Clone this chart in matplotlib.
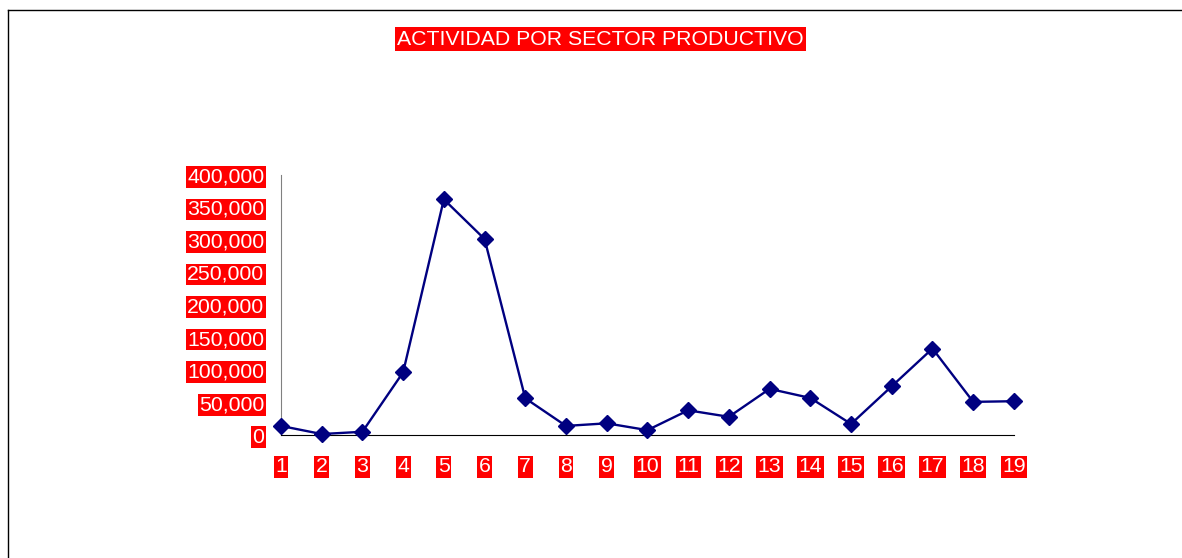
import matplotlib
matplotlib.use("Agg")
import matplotlib.pyplot as plt
from matplotlib.ticker import StrMethodFormatter, MultipleLocator
from matplotlib.lines import Line2D

plt.rcParams['font.family'] = ['Liberation Sans', 'DejaVu Sans']

# activity per productive sector
sectors = list(range(1, 20))
activity = [14000, 1500, 5000, 96500, 362500, 301500, 56500, 14000, 18000, 7500,
            38000, 28000, 71000, 57000, 17000, 75000, 133000, 51000, 52000]
title = "ACTIVIDAD POR SECTOR PRODUCTIVO"

fig = plt.figure(figsize=(11.82, 5.58), dpi=100)
ax = fig.add_axes([0.2377, 0.2204, 0.6201, 0.466])

ax.plot(sectors, activity, color='#000080', linewidth=1.7,
        marker='D', markersize=8, clip_on=False, zorder=3)

ax.set_xlim(1, 19)
ax.set_ylim(0, 400000)
ax.set_xticks(sectors)
ax.yaxis.set_major_locator(MultipleLocator(50000))
ax.yaxis.set_major_formatter(StrMethodFormatter('{x:,.0f}'))

for side in ['top', 'right']:
    ax.spines[side].set_visible(False)
ax.spines['left'].set_color('#808080')
ax.spines['bottom'].set_color('black')
ax.tick_params(length=0)
ax.tick_params(axis='y', pad=12, labelsize=15.3, labelcolor='white')
ax.tick_params(axis='x', pad=16, labelsize=15.3, labelcolor='white')
for lbl in ax.get_xticklabels() + ax.get_yticklabels():
    lbl.set_bbox(dict(facecolor='red', edgecolor='none', pad=1))

fig.text(0.508, 0.93, title, ha='center', va='center', fontsize=15.3, color='white',
         bbox=dict(facecolor='red', edgecolor='none', pad=1.5))

# outer frame (top and left edges visible)
fig.add_artist(Line2D([8 / 1182, 1.0], [1 - 10 / 558] * 2, color='black', linewidth=1))
fig.add_artist(Line2D([8 / 1182] * 2, [0.0, 1 - 10 / 558], color='black', linewidth=1))

fig.savefig('out.png', dpi=100)
